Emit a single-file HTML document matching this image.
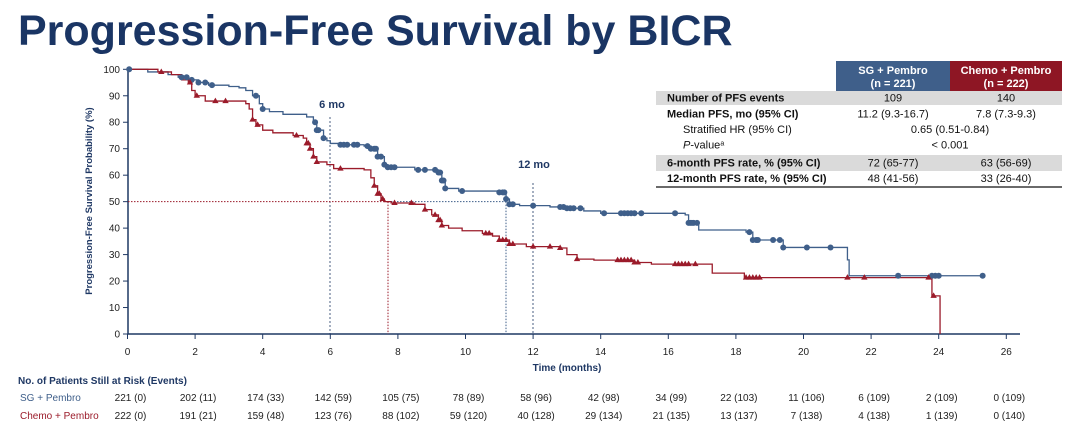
<!DOCTYPE html>
<html><head><meta charset="utf-8"><style>
body{margin:0;width:1080px;height:428px;background:#fff;overflow:hidden;font-family:"Liberation Sans",Arial,sans-serif}
</style></head><body>
<svg id="s" width="1080" height="428" xmlns="http://www.w3.org/2000/svg" font-family="Liberation Sans, Arial, sans-serif">
<text x="18" y="45" font-size="43" font-weight="bold" fill="#1A3564">Progression-Free Survival by BICR</text>
<g id="g"></g>
</svg>
<script>
const B='#3F5F8A',R='#9B1B2A',N='#1F3864';
const X=t=>127.5+33.8*t, Y=p=>334-2.647*p;
let h='';
h+=`<line x1="128" y1="69" x2="128" y2="334" stroke="${N}" stroke-width="1.5"/>`;
h+=`<line x1="128" y1="334" x2="1020" y2="334" stroke="${N}" stroke-width="1.5"/>`;
for(let p=0;p<=100;p+=10){h+=`<line x1="123" y1="${Y(p)}" x2="128" y2="${Y(p)}" stroke="${N}"/><text x="120" y="${Y(p)+3.5}" font-size="10" text-anchor="end" fill="#222">${p}</text>`}
for(let t=0;t<=26;t+=2){h+=`<line x1="${X(t)}" y1="334" x2="${X(t)}" y2="339" stroke="${N}"/><text x="${X(t)}" y="355" font-size="10" text-anchor="middle" fill="#222">${t}</text>`}
h+=`<text x="567" y="371" font-size="10" font-weight="bold" text-anchor="middle" fill="${N}">Time (months)</text>`;
h+=`<text transform="translate(92,201) rotate(-90)" font-size="9.5" font-weight="bold" text-anchor="middle" fill="${N}">Progression-Free Survival Probability (%)</text>`;
h+=`<line x1="330" y1="117" x2="330" y2="334" stroke="${N}" stroke-dasharray="2,2" stroke-width="0.8"/><text x="332" y="108" font-size="11" font-weight="bold" text-anchor="middle" fill="${N}">6 mo</text>`;
h+=`<line x1="533" y1="183" x2="533" y2="334" stroke="${N}" stroke-dasharray="2,2" stroke-width="0.8"/><text x="534" y="168" font-size="11" font-weight="bold" text-anchor="middle" fill="${N}">12 mo</text>`;
h+=`<line x1="128" y1="${Y(50)}" x2="388" y2="${Y(50)}" stroke="${R}" stroke-dasharray="1.5,1.5" stroke-width="1"/><line x1="388" y1="${Y(50)}" x2="388" y2="334" stroke="${R}" stroke-dasharray="1.5,1.5" stroke-width="1"/>`;
h+=`<line x1="388" y1="${Y(50)}" x2="506" y2="${Y(50)}" stroke="${B}" stroke-dasharray="1.5,1.5" stroke-width="1"/><line x1="506" y1="${Y(50)}" x2="506" y2="334" stroke="${B}" stroke-dasharray="1.5,1.5" stroke-width="1"/>`;
const blue=[[0,100],[0.6,99],[1.2,98],[1.5,97],[1.8,96],[2.1,95],[2.4,94],[3.0,93.5],[3.3,93],[3.5,92],[3.7,90],[3.9,87],[4.0,85],[4.2,84],[4.6,83],[5.3,82],[5.5,80],[5.6,77],[5.8,74],[5.9,73],[6.0,72],[6.3,71.5],[7.0,71],[7.2,70],[7.4,67],[7.6,64],[7.7,63],[8.0,63],[8.5,62],[9.2,61],[9.3,58],[9.4,55],[9.8,54],[11.0,53.5],[11.2,51],[11.3,49],[11.6,48.5],[12.5,48],[13,47.5],[13.5,46.5],[14,45.6],[16.5,45],[16.6,42],[16.9,39.3],[18.3,38.5],[18.5,35.5],[19.4,32.7],[21.2,32.7],[21.3,28],[21.35,22],[25.3,22]];
const red=[[0,100],[0.9,99],[1.3,98],[1.6,96],[1.8,95],[1.9,92],[2.0,90],[2.3,88],[3.5,87],[3.6,85],[3.7,81],[3.8,79],[4.0,77],[4.3,76],[4.9,75],[5.2,74],[5.3,72],[5.4,70],[5.5,67],[5.6,65],[5.9,64],[6.1,62.5],[7.0,62],[7.2,59],[7.3,56],[7.4,53],[7.5,51],[7.6,50],[7.8,49.5],[8.5,49],[8.8,47],[9.0,45],[9.2,43],[9.3,41],[9.5,40],[9.9,39],[10.5,38],[10.8,37],[11.0,35.5],[11.3,34],[11.8,33],[12.8,32.5],[13.0,30],[13.3,28.3],[13.8,27.9],[15.0,27],[15.5,26.4],[17.2,26.4],[17.3,23],[18.2,23],[18.25,21.3],[23.75,21.3],[23.8,14.4],[24.04,14.4],[24.04,0]];
function path(d,c){let s=`M${X(d[0][0])},${Y(d[0][1])}`;for(let i=1;i<d.length;i++){s+=`H${X(d[i][0])}V${Y(d[i][1])}`}return `<path d="${s}" fill="none" stroke="${c}" stroke-width="1.3"/>`}
function val(d,t){let p=100;for(const q of d){if(q[0]<=t)p=q[1];}return p}
h+=path(blue,B)+path(red,R);
const bm=[0.05,1.6,1.75,1.9,2.1,2.3,2.5,3.8,4.0,5.55,5.6,5.65,5.8,6.3,6.4,6.5,6.7,6.8,7.1,7.2,7.3,7.35,7.4,7.5,7.6,7.7,7.8,7.9,8.6,8.8,9.1,9.2,9.25,9.3,9.35,9.4,9.9,11.0,11.1,11.15,11.2,11.3,11.4,12,12.8,12.9,13.0,13.1,13.2,13.4,14.1,14.6,14.7,14.8,14.9,15.0,15.2,16.2,16.6,16.65,16.7,16.75,16.85,18.4,18.5,18.6,18.65,19.1,19.3,19.4,20.1,20.8,22.8,23.8,23.9,24.0,25.3];
bm.forEach(t=>{h+=`<circle cx="${X(t)}" cy="${Y(val(blue,t))}" r="3" fill="${B}"/>`});
const rm=[1.0,1.85,2.05,2.6,2.9,3.7,3.85,5.0,5.3,5.35,5.4,5.5,5.6,6.3,7.3,7.4,7.45,7.55,7.9,8.4,8.8,9.1,9.2,9.25,9.3,10.6,10.7,11.0,11.1,11.2,11.3,11.4,12,12.5,12.8,13.3,14.5,14.6,14.7,14.8,14.9,15.0,15.1,16.2,16.3,16.4,16.5,16.6,16.8,18.3,18.4,18.5,18.6,18.7,21.3,21.8,23.7,23.85];
rm.forEach(t=>{const x=X(t),y=Y(val(red,t));h+=`<polygon points="${x},${y-3.5} ${x-3.2},${y+2} ${x+3.2},${y+2}" fill="${R}"/>`});
h+=`<rect x="836" y="61" width="114" height="30" fill="#3F5F8A"/><rect x="950" y="61" width="112" height="30" fill="#8E1624"/>`;
h+=`<text x="893" y="74" font-size="11" font-weight="bold" fill="#fff" text-anchor="middle">SG + Pembro</text><text x="893" y="87" font-size="11" font-weight="bold" fill="#fff" text-anchor="middle">(n = 221)</text>`;
h+=`<text x="1006" y="74" font-size="11" font-weight="bold" fill="#fff" text-anchor="middle">Chemo + Pembro</text><text x="1006" y="87" font-size="11" font-weight="bold" fill="#fff" text-anchor="middle">(n = 222)</text>`;
h+=`<rect x="656" y="91" width="406" height="14" fill="#DADADA"/><rect x="656" y="155" width="406" height="16" fill="#DADADA"/>`;
const rows=[["Number of PFS events","109","140",1,101.5],["Median PFS, mo (95% CI)","11.2 (9.3-16.7)","7.8 (7.3-9.3)",1,117.5],["Stratified HR (95% CI)","0.65 (0.51-0.84)",null,0,133],["P-value","< 0.001",null,0,148.5],["6-month PFS rate, % (95% CI)","72 (65-77)","63 (56-69)",1,166.5],["12-month PFS rate, % (95% CI)","48 (41-56)","33 (26-40)",1,182]];
rows.forEach(r=>{const x=r[3]?667:683;let lab=r[0];
if(lab==="P-value")lab=`<tspan font-style="italic">P</tspan>-value<tspan font-size="7" dy="-3">a</tspan>`;
h+=`<text x="${x}" y="${r[4]}" font-size="11" ${r[3]?'font-weight="bold"':''} fill="#111">${lab}</text>`;
if(r[2]){h+=`<text x="893" y="${r[4]}" font-size="11" text-anchor="middle" fill="#111">${r[1]}</text><text x="1006" y="${r[4]}" font-size="11" text-anchor="middle" fill="#111">${r[2]}</text>`}
else h+=`<text x="950" y="${r[4]}" font-size="11" text-anchor="middle" fill="#111">${r[1]}</text>`;});
h+=`<line x1="656" y1="187" x2="1062" y2="187" stroke="#111" stroke-width="1.2"/>`;
h+=`<text x="18" y="384" font-size="10" font-weight="bold" fill="${N}">No. of Patients Still at Risk (Events)</text>`;
h+=`<text x="20" y="401" font-size="10" fill="${B}">SG + Pembro</text><text x="20" y="419" font-size="10" fill="${R}">Chemo + Pembro</text>`;
const a=["221 (0)","202 (11)","174 (33)","142 (59)","105 (75)","78 (89)","58 (96)","42 (98)","34 (99)","22 (103)","11 (106)","6 (109)","2 (109)","0 (109)"];
const b=["222 (0)","191 (21)","159 (48)","123 (76)","88 (102)","59 (120)","40 (128)","29 (134)","21 (135)","13 (137)","7 (138)","4 (138)","1 (139)","0 (140)"];
a.forEach((v,i)=>{h+=`<text x="${X(2*i)+3}" y="401" font-size="10" text-anchor="middle" fill="#222">${v}</text><text x="${X(2*i)+3}" y="419" font-size="10" text-anchor="middle" fill="#222">${b[i]}</text>`});
document.getElementById('g').innerHTML=h;
</script>
</body></html>
